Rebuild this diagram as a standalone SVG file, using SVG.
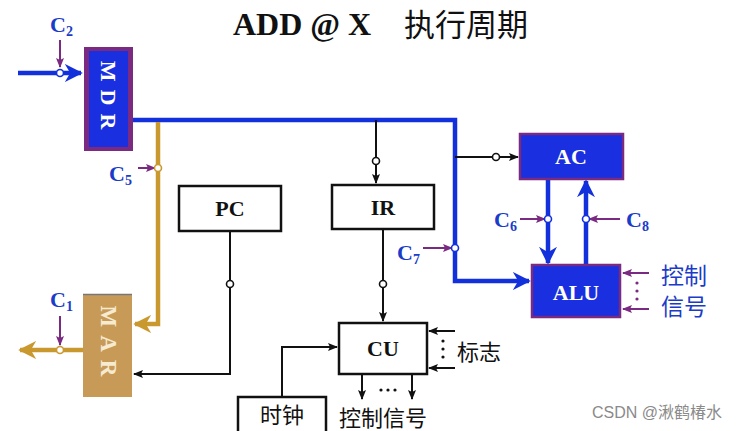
<svg xmlns="http://www.w3.org/2000/svg" width="745" height="431" viewBox="0 0 745 431">
<style>
.bus{fill:none;stroke:#1230dc;stroke-width:4.5}
.gold{fill:none;stroke:#c9982f;stroke-width:4.5}
.blk{fill:none;stroke:#111;stroke-width:2}
.pur{fill:none;stroke:#7a2a80;stroke-width:2}
.dot{fill:#fff;stroke:#111;stroke-width:1.6}
.dotb{fill:#fff;stroke:#1230dc;stroke-width:1.6}
.dotg{fill:#fff;stroke:#c9982f;stroke-width:1.6}
.box{fill:#fff;stroke:#111;stroke-width:2.5}
.reg{fill:#1a2fe0;stroke:#7a2a80;stroke-width:2.5}
.t{font-family:"Liberation Serif",serif;font-weight:bold;font-size:22px;fill:#111}
.tw{font-family:"Liberation Serif",serif;font-weight:bold;font-size:22px;fill:#fff}
.c{font-family:"Liberation Serif",serif;font-weight:bold;font-size:22px;fill:#1a3cc8}
.cs{font-size:14px}
.zh{font-family:"Noto Sans CJK SC",sans-serif;font-size:22px;fill:#111}
.zhb{font-family:"Noto Sans CJK SC",sans-serif;font-size:23px;fill:#1a3cc8}
</style>
<defs>
<marker id="ab" viewBox="0 0 10 10" refX="9" refY="5" markerWidth="4" markerHeight="4" orient="auto" markerUnits="strokeWidth"><path d="M0,0 L10,5 L0,10 L3,5 z" fill="#1230dc"/></marker>
<marker id="ag" viewBox="0 0 10 10" refX="9" refY="5" markerWidth="4" markerHeight="4" orient="auto" markerUnits="strokeWidth"><path d="M0,0 L10,5 L0,10 L3,5 z" fill="#c9982f"/></marker>
<marker id="ak" viewBox="0 0 10 10" refX="9" refY="5" markerWidth="5" markerHeight="5" orient="auto" markerUnits="strokeWidth"><path d="M0,1 L10,5 L0,9 L2,5 z" fill="#111"/></marker>
<marker id="ap" viewBox="0 0 10 10" refX="9" refY="5" markerWidth="5" markerHeight="5" orient="auto" markerUnits="strokeWidth"><path d="M0,1 L10,5 L0,9 L2,5 z" fill="#7a2a80"/></marker>
</defs>

<text x="233" y="35" font-family="Liberation Serif,serif" font-weight="bold" font-size="32" fill="#111">ADD @ X</text>
<text x="404" y="36" font-family="Noto Sans CJK SC,sans-serif" font-size="31" fill="#111">执行周期</text>

<g id="connectors">
<path class="bus" d="M18,73 L81,73" marker-end="url(#ab)"/>
<path class="bus" d="M133,120 L455,120 L455,281 L529,281" marker-end="url(#ab)"/>
<path class="gold" d="M158,122 L158,324 L135,324" marker-end="url(#ag)"/>
<path class="gold" d="M83,350 L20,350" marker-end="url(#ag)"/>
<path class="blk" d="M455,157 L518,157" marker-end="url(#ak)"/>
<path class="blk" d="M376,120 L376,183" marker-end="url(#ak)"/>
<path class="blk" d="M383,229 L383,321" marker-end="url(#ak)"/>
<path class="blk" d="M230,231 L230,374 L134,374" marker-end="url(#ak)"/>
<path class="blk" d="M282,397 L282,347 L337,347" marker-end="url(#ak)"/>
<path class="blk" d="M362,374 L362,399" marker-end="url(#ak)"/>
<path class="blk" d="M412,374 L412,399" marker-end="url(#ak)"/>
<path class="blk" d="M455,331 L429,331" marker-end="url(#ak)"/>
<path class="blk" d="M455,368 L429,368" marker-end="url(#ak)"/>
<path class="bus" d="M548,179 L548,263" marker-end="url(#ab)"/>
<path class="bus" d="M586,265 L586,181" marker-end="url(#ab)"/>
<path class="pur" d="M649,273 L623,273" marker-end="url(#ap)"/>
<path class="pur" d="M649,309 L623,309" marker-end="url(#ap)"/>
<path class="pur" d="M60,40 L60,67" marker-end="url(#ap)"/>
<path class="pur" d="M138,168 L155,168" marker-end="url(#ap)"/>
<path class="pur" d="M60,316 L60,345" marker-end="url(#ap)"/>
<path class="pur" d="M423,248 L452,248" marker-end="url(#ap)"/>
<path class="pur" d="M520,219 L545,219" marker-end="url(#ap)"/>
<path class="pur" d="M620,219 L589,219" marker-end="url(#ap)"/>
<circle class="dotb" cx="60" cy="73" r="3.5"/>
<circle class="dotg" cx="158" cy="168" r="3.5"/>
<circle class="dotg" cx="60" cy="350" r="3.5"/>
<circle class="dotb" cx="455" cy="248" r="3.5"/>
<circle class="dotb" cx="548" cy="219" r="3.5"/>
<circle class="dotb" cx="586" cy="219" r="3.5"/>
<circle class="dot" cx="496" cy="157" r="3.5"/>
<circle class="dot" cx="376" cy="161" r="3.5"/>
<circle class="dot" cx="383" cy="284" r="3.5"/>
<circle class="dot" cx="230" cy="284" r="3.5"/>
<g fill="#7a2a80"><circle cx="637" cy="283" r="1.6"/><circle cx="637" cy="291" r="1.6"/><circle cx="637" cy="299" r="1.6"/></g>
<g fill="#111"><circle cx="443" cy="341" r="1.6"/><circle cx="443" cy="349" r="1.6"/><circle cx="443" cy="357" r="1.6"/></g>
<g fill="#111"><circle cx="381" cy="390" r="1.6"/><circle cx="388" cy="390" r="1.6"/><circle cx="395" cy="390" r="1.6"/></g>
</g>

<g id="labels">
<text class="c" x="50" y="32">C<tspan class="cs" dy="4">2</tspan></text>
<text class="c" x="109" y="181">C<tspan class="cs" dy="4">5</tspan></text>
<text class="c" x="50" y="307">C<tspan class="cs" dy="4">1</tspan></text>
<text class="c" x="397" y="260">C<tspan class="cs" dy="4">7</tspan></text>
<text class="c" x="494" y="227">C<tspan class="cs" dy="4">6</tspan></text>
<text class="c" x="626" y="227">C<tspan class="cs" dy="4">8</tspan></text>
<text class="zhb" x="661" y="284">控制</text>
<text class="zhb" x="661" y="315">信号</text>
<text class="zh" x="457" y="360">标志</text>
<text class="zh" x="339" y="426" font-size="23">控制信号</text>
</g>

<g id="MDR">
<rect x="84" y="47" width="49" height="104" fill="#7a2a80"/>
<rect x="89" y="51" width="39" height="96" fill="#1a2fe0"/>
<text class="tw" transform="translate(101,99) rotate(90)" text-anchor="middle" letter-spacing="8" font-size="23">MDR</text>
</g>

<g id="MAR">
<rect x="83" y="294" width="49" height="103" fill="#c89a58"/>
<line x1="83" y1="294.5" x2="132" y2="294.5" stroke="#777" stroke-width="1.5"/>
<text transform="translate(101,345) rotate(90)" text-anchor="middle" letter-spacing="8" font-family="Liberation Serif,serif" font-weight="bold" font-size="23" fill="#f6ead0">MAR</text>
</g>

<g id="PC">
<rect class="box" x="179" y="186" width="102" height="45"/>
<text class="t" x="230" y="216" text-anchor="middle">PC</text>
</g>

<g id="IR">
<rect class="box" x="332" y="185" width="102" height="44"/>
<text class="t" x="383" y="215" text-anchor="middle">IR</text>
</g>

<g id="AC">
<rect class="reg" x="520" y="134" width="103" height="45"/>
<text class="tw" x="571" y="164" text-anchor="middle">AC</text>
</g>

<g id="ALU">
<rect class="reg" x="532" y="265" width="88" height="52"/>
<text class="tw" x="576" y="300" text-anchor="middle">ALU</text>
</g>

<g id="CU">
<rect class="box" x="339" y="323" width="88" height="51"/>
<text class="t" x="383" y="356" text-anchor="middle">CU</text>
</g>

<g id="clock">
<rect class="box" x="238" y="397" width="88" height="40"/>
<text class="zh" x="282" y="423" text-anchor="middle">时钟</text>
</g>

<text x="592" y="418" font-family="Liberation Sans,Noto Sans CJK SC,sans-serif" font-size="16" fill="#8a8a8a">CSDN @湫鹤椿水</text>
</svg>
